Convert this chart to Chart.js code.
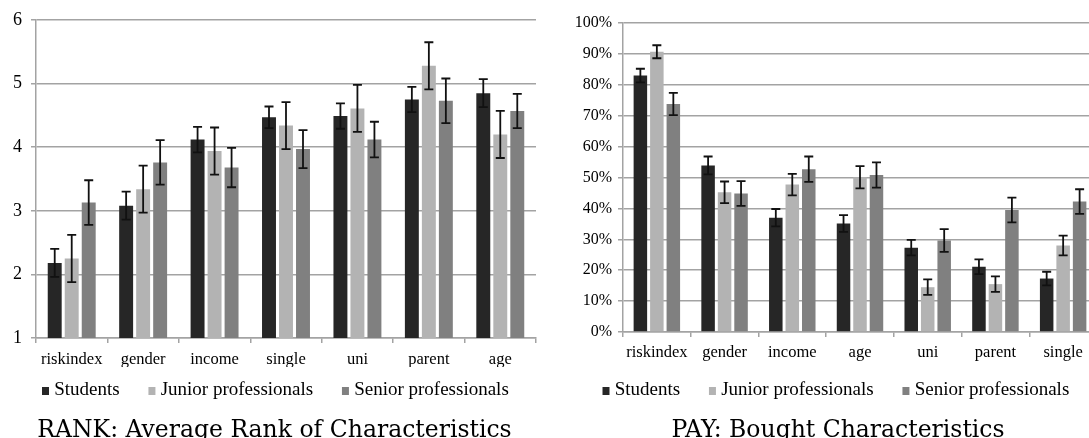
<!DOCTYPE html>
<html>
<head>
<meta charset="utf-8">
<script src="https://cdn.jsdelivr.net/npm/chart.js@4"></script>
<style>
  html, body { margin: 0; padding: 0; background: #fff; }
  body { width: 1089px; height: 438px; overflow: hidden; position: relative; }
  #rank { position: absolute; left: 0; top: 0; }
  #pay { position: absolute; left: 560px; top: 0; }
</style>
</head>
<body>
<canvas id="rank" width="549" height="438"></canvas>
<canvas id="pay" width="556" height="438"></canvas>
<script>
// RANK: average rank (1 = most important)
var rankCategories = ['riskindex', 'gender', 'income', 'single', 'uni', 'parent', 'age'];
var rankStudents    = [2.18, 3.08, 4.12, 4.47, 4.49, 4.75, 4.85];
var rankStudentsErr = [0.22, 0.22, 0.20, 0.17, 0.20, 0.20, 0.22];
var rankJunior      = [2.25, 3.34, 3.94, 4.34, 4.61, 5.28, 4.20];
var rankJuniorErr   = [0.37, 0.37, 0.37, 0.37, 0.37, 0.37, 0.37];
var rankSenior      = [3.13, 3.76, 3.68, 3.97, 4.12, 4.73, 4.57];
var rankSeniorErr   = [0.35, 0.35, 0.31, 0.30, 0.28, 0.35, 0.27];
var rankTicks = [1, 6];

// PAY: share who bought each characteristic (%)
var payCategories = ['riskindex', 'gender', 'income', 'age', 'uni', 'parent', 'single'];
var payStudents    = [83.0, 53.9, 37.0, 35.1, 27.3, 21.1, 17.3];
var payStudentsErr = [2.2, 2.9, 2.8, 2.7, 2.5, 2.4, 2.2];
var payJunior      = [90.7, 45.2, 47.7, 50.1, 14.5, 15.5, 28.0];
var payJuniorErr   = [2.1, 3.5, 3.5, 3.6, 2.5, 2.5, 3.2];
var paySenior      = [73.8, 44.8, 52.7, 50.8, 29.6, 39.5, 42.2];
var paySeniorErr   = [3.6, 4.0, 4.1, 4.1, 3.7, 4.0, 4.0];
var payTicks = [0, 100];

var groupNames = ['Students', 'Junior professionals', 'Senior professionals'];
var groupColors = ['#262626', '#b3b3b3', '#808080'];

var GRID = '#a3a3a3';
var SERIF = '"Liberation Serif", "DejaVu Serif", serif';
var CAPTION = '23.5px "DejaVu Serif", "Liberation Serif", serif';

// legend marker: small square pushed right, so it sits close to its text
function swatch(color) {
  var c = document.createElement('canvas');
  c.width = 28; c.height = 8;
  var g = c.getContext('2d');
  g.fillStyle = color;
  g.fillRect(20, 0, 7, 8);
  return c;
}

// whiskers on top of each bar, drawn through the y scale
var errorBars = {
  id: 'errorBars',
  afterDatasetsDraw: function (chart) {
    var ctx = chart.ctx;
    var y = chart.scales.y;
    ctx.save();
    ctx.strokeStyle = '#111';
    ctx.lineWidth = 1.8;
    chart.data.datasets.forEach(function (ds, i) {
      chart.getDatasetMeta(i).data.forEach(function (bar, j) {
        var v = ds.data[j], e = ds.errors[j];
        var top = y.getPixelForValue(v + e);
        var bot = y.getPixelForValue(v - e);
        var cap = 4.5;
        ctx.beginPath();
        ctx.moveTo(bar.x, top); ctx.lineTo(bar.x, bot);
        ctx.moveTo(bar.x - cap, top); ctx.lineTo(bar.x + cap, top);
        ctx.moveTo(bar.x - cap, bot); ctx.lineTo(bar.x + cap, bot);
        ctx.stroke();
      });
    });
    ctx.restore();
  }
};

// figure caption, centred under the whole canvas (like the LaTeX subcaption)
var caption = {
  id: 'caption',
  afterDraw: function (chart, args, opts) {
    var ctx = chart.ctx;
    ctx.save();
    ctx.font = CAPTION;
    ctx.fillStyle = '#000';
    ctx.textAlign = 'center';
    ctx.textBaseline = 'alphabetic';
    ctx.fillText(opts.text, chart.width / 2, chart.height - 1.5);
    ctx.restore();
  }
};

function makeSets(series, errs, catPct) {
  return series.map(function (d, i) {
    return {
      label: groupNames[i],
      data: d,
      errors: errs[i],
      backgroundColor: groupColors[i],
      pointStyle: swatch(groupColors[i]),
      borderWidth: 0,
      categoryPercentage: catPct,
      barPercentage: 0.82
    };
  });
}

function makeChart(id, cats, series, errs, opt) {
  return new Chart(document.getElementById(id), {
    type: 'bar',
    data: { labels: cats, datasets: makeSets(series, errs, opt.catPct) },
    plugins: [errorBars, caption],
    options: {
      responsive: false,
      animation: false,
      devicePixelRatio: 1,
      layout: { padding: { top: opt.top, right: opt.right, left: 0, bottom: 28 } },
      plugins: {
        tooltip: { enabled: false },
        caption: { text: opt.title },
        legend: {
          position: 'bottom',
          labels: {
            color: '#000',
            font: { family: SERIF, size: 19 },
            usePointStyle: true,
            pointStyleWidth: 17.5,
            boxHeight: 8,
            padding: 14
          }
        }
      },
      scales: {
        x: {
          afterFit: function (s) { s.height = opt.xh; },
          grid: { display: true, drawOnChartArea: false, color: GRID, tickLength: 5, lineWidth: 1.5 },
          border: { color: GRID, width: 1.5 },
          ticks: { color: '#000', font: { family: SERIF, size: 16.5 }, padding: opt.xpad, maxRotation: 0 }
        },
        y: {
          min: opt.ticks[0], max: opt.ticks[1],
          afterFit: function (s) { s.width = opt.yw; },
          grid: { color: GRID, tickLength: 5, lineWidth: 1.5 },
          border: { color: GRID, width: 1.5 },
          ticks: {
            stepSize: opt.step,
            color: '#000',
            font: { family: SERIF, size: opt.yfont },
            padding: opt.ypad,
            callback: opt.fmt
          }
        }
      }
    }
  });
}

makeChart('rank', rankCategories,
  [rankStudents, rankJunior, rankSenior],
  [rankStudentsErr, rankJuniorErr, rankSeniorErr],
  { catPct: 0.714, top: 20, right: 13, xh: 29, xpad: 7, yw: 36, ypad: 9, ticks: rankTicks, step: 1, yfont: 18,
    fmt: function (v) { return v; }, title: 'RANK: Average Rank of Characteristics' });

makeChart('pay', payCategories,
  [payStudents, payJunior, paySenior],
  [payStudentsErr, payJuniorErr, paySeniorErr],
  { catPct: 0.73, top: 23, right: 19, xh: 35, xpad: 6, yw: 63, ypad: 6, ticks: payTicks, step: 10, yfont: 16,
    fmt: function (v) { return v + '%'; }, title: 'PAY: Bought Characteristics' });
</script>
</body>
</html>
